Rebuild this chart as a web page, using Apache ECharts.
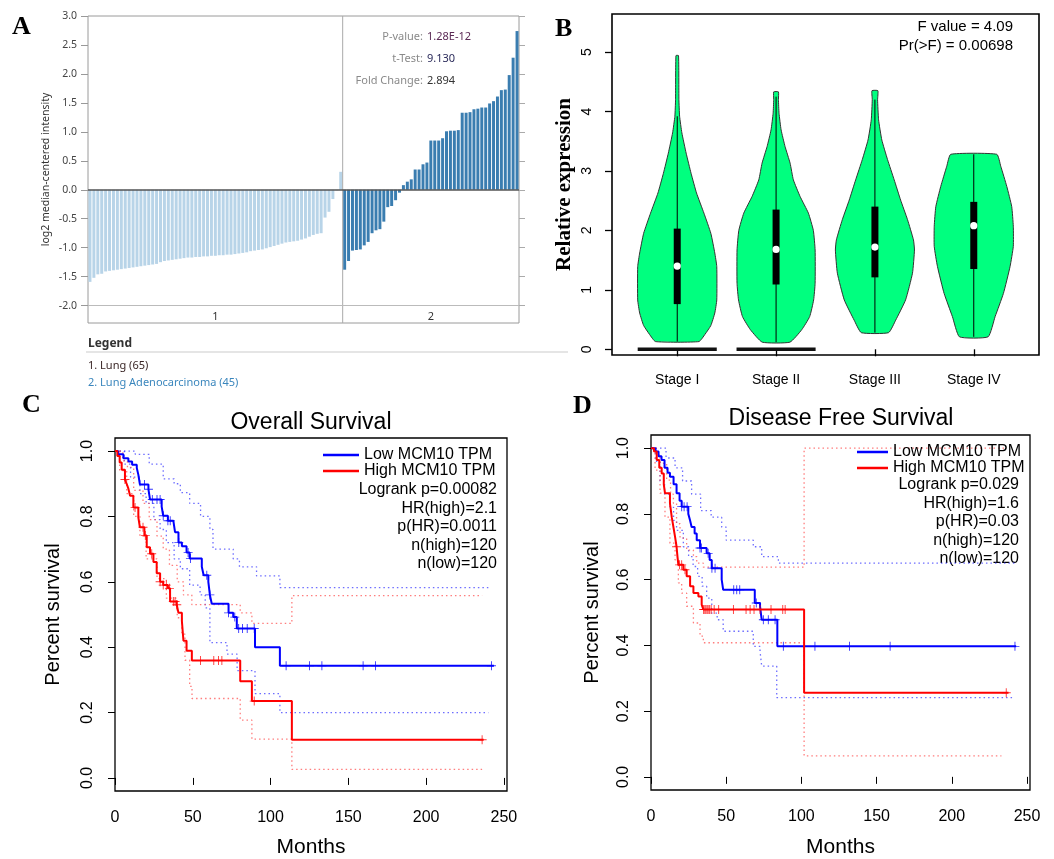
<!DOCTYPE html>
<html>
<head>
<meta charset="utf-8">
<title>MCM10 expression and survival</title>
<script src="https://cdn.jsdelivr.net/npm/echarts@6/dist/echarts.min.js"></script>
<style>
  html, body { margin: 0; padding: 0; background: #fff; }
  #main { width: 1054px; height: 859px; }
</style>
</head>
<body>
<div id="main"></div>
<script>
// ---------- A : oncomine bar chart ----------
var lungVals = [-1.59, -1.52, -1.46, -1.45, -1.41, -1.40, -1.39, -1.38, -1.37, -1.36,
  -1.35, -1.34, -1.33, -1.32, -1.31, -1.30, -1.29, -1.28, -1.25, -1.23,
  -1.22, -1.21, -1.20, -1.19, -1.18, -1.17, -1.17, -1.16, -1.16, -1.15,
  -1.15, -1.14, -1.14, -1.13, -1.13, -1.12, -1.12, -1.11, -1.10, -1.09,
  -1.08, -1.06, -1.05, -1.04, -1.03, -1.01, -0.99, -0.97, -0.95, -0.93,
  -0.91, -0.90, -0.89, -0.88, -0.86, -0.84, -0.81, -0.78, -0.76, -0.75,
  -0.48, -0.38, -0.16, -0.01, 0.31];
var adenoVals = [-1.38, -1.23, -1.05, -1.04, -1.03, -0.96, -0.90, -0.75, -0.70, -0.68,
  -0.55, -0.30, -0.28, -0.18, -0.05, 0.08, 0.14, 0.18, 0.35, 0.35,
  0.44, 0.47, 0.85, 0.85, 0.85, 0.89, 1.01, 1.02, 1.02, 1.03,
  1.33, 1.33, 1.34, 1.39, 1.40, 1.42, 1.42, 1.49, 1.53, 1.61,
  1.72, 1.73, 1.98, 2.28, 2.74];
var groupLabels = ['1', '2'];
var aTicks = [-2.0, -1.5, -1.0, -0.5, 0.0, 0.5, 1.0, 1.5, 2.0, 2.5, 3.0];

// ---------- B : violin plot ----------
var stageNames = ['Stage I', 'Stage II', 'Stage III', 'Stage IV'];
var stage1Y = [0.13, 0.25, 0.40, 0.61, 0.83, 1.39, 1.62, 1.95, 2.29, 2.63, 2.96, 3.30, 3.64, 3.92, 4.20, 4.94];
var stage1W = [0.22, 0.28, 0.34, 0.38, 0.40, 0.40, 0.38, 0.34, 0.27, 0.195, 0.14, 0.09, 0.047, 0.024, 0.017, 0.013];
var stage2Y = [0.12, 0.33, 0.55, 0.83, 1.11, 1.67, 2.00, 2.29, 2.57, 2.85, 3.13, 3.41, 3.69, 3.97, 4.20, 4.33];
var stage2W = [0.14, 0.26, 0.34, 0.38, 0.395, 0.395, 0.377, 0.327, 0.243, 0.175, 0.142, 0.091, 0.051, 0.030, 0.024, 0.024];
var stage3Y = [0.28, 0.49, 0.83, 1.28, 1.67, 1.84, 2.18, 2.51, 2.85, 3.19, 3.52, 3.86, 4.20, 4.35];
var stage3W = [0.138, 0.21, 0.31, 0.38, 0.40, 0.39, 0.33, 0.26, 0.195, 0.128, 0.07, 0.037, 0.027, 0.03];
var stage4Y = [0.21, 0.55, 0.94, 1.39, 1.73, 2.07, 2.40, 2.74, 3.08, 3.28];
var stage4W = [0.145, 0.216, 0.30, 0.367, 0.40, 0.40, 0.384, 0.334, 0.273, 0.233];
var boxLow = [0.76, 1.09, 1.21, 1.35];
var boxHigh = [2.03, 2.35, 2.40, 2.48];
var medians = [1.40, 1.68, 1.72, 2.08];
var whiskerLow = [0.13, 0.12, 0.28, 0.21];
var whiskerHigh = [3.92, 4.25, 4.20, 3.28];
var zeroBar = [true, true, false, false];
var bTicks = [0, 1, 2, 3, 4, 5];

// ---------- C : overall survival (months, survival) ----------
var osLow = [[0,1],[2,0.99],[5.4,0.978],[8.6,0.968],[11,0.958],[14,0.948],[15,0.928],[16,0.898],[21.5,0.883],[22.5,0.852],
  [30,0.83],[31,0.802],[34,0.787],[37.5,0.782],[38.6,0.752],[40.8,0.72],[43,0.709],[46,0.69],[48,0.671],[55.8,0.646],
  [57,0.62],[60,0.60],[61,0.56],[62.2,0.533],[73,0.505],[76,0.492],[78.3,0.457],[90,0.40],[106,0.343],[243.6,0.343]];
var osHigh = [[0,1],[1.5,0.985],[3,0.965],[4.3,0.943],[6.4,0.913],[7.5,0.90],[8.6,0.885],[9.7,0.863],[11.8,0.827],[15,0.797],
  [16,0.767],[18.9,0.742],[20.4,0.706],[22.5,0.686],[24.7,0.661],[26.8,0.626],[29,0.60],[31,0.59],[34,0.58],[35.4,0.54],
  [39.7,0.53],[40.8,0.505],[43,0.48],[44,0.42],[46,0.389],[49.4,0.359],[80.5,0.296],[88,0.235],[113.7,0.117],[237,0.117]];
var osLowUpper = [[0,1],[13,0.99],[22,0.96],[31,0.915],[38,0.90],[42,0.873],[48,0.84],[55,0.80],[61,0.76],[63,0.70],
  [76,0.67],[80,0.646],[91,0.618],[106,0.582],[240,0.582]];
var osLowLower = [[0,1],[6,0.96],[10,0.92],[16,0.87],[20,0.84],[25,0.79],[29,0.76],[33,0.72],[38,0.67],[42,0.64],
  [48,0.59],[54.7,0.56],[58,0.52],[61,0.414],[72,0.379],[78.5,0.328],[90,0.258],[106,0.20],[240,0.20]];
var osHighUpper = [[0,1],[5,0.97],[8,0.95],[12,0.88],[18,0.84],[22,0.79],[27,0.74],[31,0.70],[35,0.65],[40,0.60],
  [44,0.56],[49.4,0.53],[80.5,0.505],[88,0.473],[113.7,0.558],[236,0.558]];
var osHighLower = [[0,1],[3,0.94],[7.5,0.87],[12,0.80],[16,0.74],[20,0.67],[27,0.61],[33,0.55],[40,0.49],[43,0.44],
  [45,0.36],[48,0.28],[49.5,0.243],[80.5,0.177],[88,0.119],[113.7,0.026],[236,0.026]];
var osLowCensor = [19,21.5,24,27,29,31,34,35.5,41,47,48.5,59,61,73,77,79.5,82,85,89.5,110,125,133,159.5,167.5,242];
var osHighCensor = [6.4,12.9,18,19.5,23.6,29,31,33,35,37.5,38.6,39.7,55,63.5,66.5,68.7,89.5,236];

// ---------- D : disease free survival ----------
var dfsLow = [[0,1],[3,0.99],[5,0.975],[7,0.964],[9,0.94],[11,0.925],[12.6,0.913],[15,0.89],[17,0.863],[19,0.84],
  [20.4,0.822],[24.8,0.80],[26,0.78],[27,0.76],[29,0.74],[30.4,0.72],[32.6,0.696],[37,0.68],[39,0.66],[40.4,0.635],
  [47,0.60],[48,0.569],[69,0.529],[72.5,0.519],[73.6,0.478],[84,0.397],[242.8,0.397]];
var dfsHigh = [[0,1],[2,0.99],[3.8,0.964],[5.5,0.94],[7.1,0.923],[8.5,0.89],[9.3,0.863],[12.6,0.832],[13.8,0.79],[14.9,0.76],
  [16,0.73],[17,0.70],[17.6,0.67],[18.2,0.645],[21.5,0.63],[23.7,0.61],[26,0.58],[28.2,0.559],[31.5,0.549],[33.7,0.524],
  [34.8,0.509],[101.8,0.256],[237.7,0.256]];
var dfsLowUpper = [[0,1],[10,0.97],[16,0.94],[21,0.90],[27,0.86],[33,0.81],[40,0.79],[47,0.76],[50,0.72],[68,0.70],
  [73.6,0.67],[84.7,0.65],[242,0.65]];
var dfsLowLower = [[0,1],[3,0.96],[6,0.90],[9,0.86],[12.6,0.82],[15,0.78],[17,0.75],[21.5,0.70],[25,0.67],[28,0.64],
  [31,0.61],[34,0.58],[37,0.544],[40.4,0.498],[44,0.478],[48,0.443],[68,0.397],[72.5,0.382],[73.6,0.337],[83.6,0.241],[242,0.241]];
var dfsHighUpper = [[0,1],[4,0.98],[6,0.954],[10.4,0.903],[13,0.86],[14.9,0.832],[17,0.77],[19.3,0.726],[23.7,0.69],[28.2,0.67],
  [30.4,0.65],[34.8,0.638],[101.8,1.0],[236,1.0]];
var dfsHighLower = [[0,1],[2.7,0.933],[6,0.863],[9.3,0.79],[12.6,0.711],[16,0.66],[18.2,0.59],[20.4,0.559],[23.7,0.519],[28.2,0.468],
  [32.6,0.428],[34.8,0.408],[101.8,0.064],[233,0.064]];
var dfsLowCensor = [20.4,22,24,32.6,33.5,38,40.5,42.6,55,57,59,70,74.7,78,82.5,88,109,132,159,242];
var dfsHighCensor = [17,19,20.4,22.6,35,35.8,36.5,37.3,38,39,40,42,45,54.8,63.2,65.9,68.5,72.5,79.8,87.6,89.2,236.2];

var survTicks = [0, 0.2, 0.4, 0.6, 0.8, 1.0];
var monthTicks = [0, 50, 100, 150, 200, 250];
var seriesNames = ['Low MCM10 TPM', 'High MCM10 TPM'];

// ---------------------------------------------------
var chart = echarts.init(document.getElementById('main'));

var SANS = 'Liberation Sans';
var BLUE = '#0000ff', RED = '#ff0000';
var PLUS = 'path://M-0.1,-1H0.1V-0.1H1V0.1H0.1V1H-0.1V0.1H-1V-0.1H-0.1Z';

// bars for A
var aCats = [], aData = [];
lungVals.forEach(function (v, i) {
  aCats.push('s' + i);
  aData.push({ value: v, itemStyle: { color: '#b8d4e8' } });
});
adenoVals.forEach(function (v, i) {
  aCats.push('t' + i);
  aData.push({ value: v, itemStyle: { color: '#3a7db0' } });
});
var nA = lungVals.length + adenoVals.length;
var groupCenters = [lungVals.length / 2, lungVals.length + adenoVals.length / 2];

var violinY = [stage1Y, stage2Y, stage3Y, stage4Y];
var violinW = [stage1W, stage2W, stage3W, stage4W];

function renderViolin(params, api) {
  var i = api.value(0) - 1, c = i + 1;
  var ys = violinY[i], ws = violinW[i], pts = [], k;
  for (k = 0; k < ys.length; k++) pts.push(api.coord([c + ws[k], ys[k]]));
  for (k = ys.length - 1; k >= 0; k--) pts.push(api.coord([c - ws[k], ys[k]]));
  var kids = [{ type: 'polygon', shape: { points: pts, smooth: 0.15 },
    style: { fill: '#00ff7f', stroke: '#333', lineWidth: 1 } }];
  if (zeroBar[i]) {
    var a = api.coord([c - 0.4, 0]), b = api.coord([c + 0.4, 0]);
    kids.push({ type: 'line', shape: { x1: a[0], y1: a[1], x2: b[0], y2: b[1] }, style: { stroke: '#111', lineWidth: 3.5 } });
  }
  var w0 = api.coord([c, whiskerLow[i]]), w1 = api.coord([c, whiskerHigh[i]]);
  kids.push({ type: 'line', shape: { x1: w0[0], y1: w0[1], x2: w1[0], y2: w1[1] }, style: { stroke: '#000', lineWidth: 1 } });
  var q1 = api.coord([c, boxLow[i]]), q3 = api.coord([c, boxHigh[i]]);
  kids.push({ type: 'rect', shape: { x: q1[0] - 3.5, y: q3[1], width: 7, height: q1[1] - q3[1] }, style: { fill: '#000' } });
  var m = api.coord([c, medians[i]]);
  kids.push({ type: 'circle', shape: { cx: m[0], cy: m[1], r: 3.6 }, style: { fill: '#fff' } });
  return { type: 'group', children: kids };
}

function survAt(curve, t) {
  var s = 1;
  for (var i = 0; i < curve.length; i++) if (curve[i][0] <= t) s = curve[i][1];
  return s;
}

function kmSeries(ax, low, high, lowUp, lowLo, highUp, highLo, lowCens, highCens) {
  function ci(data, color) {
    return { type: 'line', xAxisIndex: ax, yAxisIndex: ax, data: data, step: 'end', showSymbol: false, silent: true,
      lineStyle: { color: color, width: 1.3, type: [1.5, 3] }, z: 2 };
  }
  function curve(name, data, color) {
    return { name: name, type: 'line', xAxisIndex: ax, yAxisIndex: ax, data: data, step: 'end', showSymbol: false,
      lineStyle: { color: color, width: 2 }, itemStyle: { color: color }, z: 4 };
  }
  function cens(curveData, times, color) {
    return { type: 'scatter', xAxisIndex: ax, yAxisIndex: ax, symbol: PLUS, symbolSize: 9, silent: true,
      itemStyle: { color: color }, z: 5,
      data: times.map(function (t) { return [t, survAt(curveData, t)]; }) };
  }
  return [
    ci(lowUp, 'rgba(60,60,255,0.75)'), ci(lowLo, 'rgba(60,60,255,0.75)'),
    ci(highUp, 'rgba(255,70,70,0.7)'), ci(highLo, 'rgba(255,70,70,0.7)'),
    curve(seriesNames[0], low, BLUE), curve(seriesNames[1], high, RED),
    cens(low, lowCens, BLUE), cens(high, highCens, RED)
  ];
}

function survX(grid, name, gap) {
  return { type: 'value', gridIndex: grid, min: 0, max: 252, name: name, nameLocation: 'middle', nameGap: gap,
    nameTextStyle: { fontFamily: SANS, fontSize: 21, color: '#000' },
    axisLine: { show: false }, splitLine: { show: false },
    axisTick: { customValues: monthTicks, length: 7, lineStyle: { color: '#000' } },
    axisLabel: { customValues: monthTicks, margin: 19, fontFamily: SANS, fontSize: 16, color: '#000' } };
}
function survY(grid, gap) {
  return { type: 'value', gridIndex: grid, min: -0.04, max: 1.04, name: 'Percent survival', nameLocation: 'middle',
    nameGap: gap, nameRotate: 90, nameTextStyle: { fontFamily: SANS, fontSize: 20, color: '#000' },
    axisLine: { show: false }, splitLine: { show: false },
    axisTick: { customValues: survTicks, length: 7, lineStyle: { color: '#000' } },
    axisLabel: { customValues: survTicks, rotate: 90, margin: 19, fontFamily: SANS, fontSize: 16, color: '#000',
      formatter: function (v) { return v.toFixed(1); } } };
}

function txt(x, y, s, font, color, align) {
  return { type: 'text', x: x, y: y, style: { text: s, font: font, fill: color || '#000', align: align || 'left', verticalAlign: 'middle' } };
}

var statFont = '16px "Liberation Sans"';
var graphics = [
  txt(12, 27, 'A', 'bold 26px "Liberation Serif"'),
  txt(555, 29, 'B', 'bold 26px "Liberation Serif"'),
  txt(22, 405, 'C', 'bold 26px "Liberation Serif"'),
  txt(573, 406, 'D', 'bold 26px "Liberation Serif"'),
  // A statistics
  txt(423, 37, 'P-value:', '11px "Noto Sans"', '#8a8a8a', 'right'),
  txt(427, 37, '1.28E-12', '11px "Noto Sans"', '#5b2a55'),
  txt(423, 59, 't-Test:', '11px "Noto Sans"', '#8a8a8a', 'right'),
  txt(427, 59, '9.130', '11px "Noto Sans"', '#2a2a5a'),
  txt(423, 81, 'Fold Change:', '11px "Noto Sans"', '#8a8a8a', 'right'),
  txt(427, 81, '2.894', '11px "Noto Sans"', '#333'),
  // A legend
  txt(88, 344, 'Legend', 'bold 12px "Noto Sans"', '#333'),
  { type: 'line', shape: { x1: 86, y1: 352, x2: 568, y2: 352 }, style: { stroke: '#dddddd', lineWidth: 1.5 } },
  txt(88, 366, '1. Lung (65)', '11px "Noto Sans"', '#3a2626'),
  txt(88, 383, '2. Lung Adenocarcinoma (45)', '11px "Noto Sans"', '#3a86bd'),
  // B statistics
  txt(1013, 27, 'F value = 4.09', '15px "Liberation Sans"', '#000', 'right'),
  txt(1013, 46, 'Pr(>F) = 0.00698', '15px "Liberation Sans"', '#000', 'right'),
  // C/D titles
  txt(311, 423, 'Overall Survival', '23px "Liberation Sans"', '#000', 'center'),
  txt(841, 419, 'Disease Free Survival', '23px "Liberation Sans"', '#000', 'center')
];
var osStats = ['Logrank p=0.00082', 'HR(high)=2.1', 'p(HR)=0.0011', 'n(high)=120', 'n(low)=120'];
var dfsStats = ['Logrank p=0.029', 'HR(high)=1.6', 'p(HR)=0.03', 'n(high)=120', 'n(low)=120'];
osStats.forEach(function (s, i) { graphics.push(txt(497, 490 + i * 18.5, s, statFont, '#000', 'right')); });
dfsStats.forEach(function (s, i) { graphics.push(txt(1019, 485 + i * 18.5, s, statFont, '#000', 'right')); });

var option = {
  backgroundColor: '#fff',
  animation: false,
  textStyle: { fontFamily: SANS },
  grid: [
    { left: 88, top: 16, width: 431, height: 307, show: true, borderColor: '#9a9a9a', borderWidth: 1 },
    { left: 612, top: 14, width: 427, height: 341, show: true, borderColor: '#000', borderWidth: 1.6 },
    { left: 115, top: 438, width: 392, height: 357, show: true, borderColor: '#000', borderWidth: 1.3 },
    { left: 651, top: 435, width: 379, height: 356, show: true, borderColor: '#000', borderWidth: 1.3 }
  ],
  legend: [
    { data: seriesNames, orient: 'vertical', left: 323, top: 447, itemWidth: 36, itemHeight: 2.5, icon: 'rect',
      itemGap: 0, padding: 0, selectedMode: false, textStyle: { fontFamily: SANS, fontSize: 16, lineHeight: 15.7, color: '#000' } },
    { data: seriesNames, orient: 'vertical', left: 857, top: 444, itemWidth: 31, itemHeight: 2.5, icon: 'rect',
      itemGap: 0, padding: 0, selectedMode: false, textStyle: { fontFamily: SANS, fontSize: 16, lineHeight: 14.5, color: '#000' } }
  ],
  xAxis: [
    { type: 'category', gridIndex: 0, data: aCats, position: 'top', show: false },
    { type: 'value', gridIndex: 0, position: 'bottom', min: 0, max: nA,
      axisLine: { show: false }, axisTick: { show: false }, splitLine: { show: false },
      axisLabel: { customValues: groupCenters, inside: true, margin: 1, fontFamily: 'Noto Sans', fontSize: 11, color: '#333',
        formatter: function (v) { return v < lungVals.length ? groupLabels[0] : groupLabels[1]; } } },
    { type: 'value', gridIndex: 1, min: 0.34, max: 4.66,
      axisLine: { show: false }, splitLine: { show: false },
      axisTick: { customValues: [1, 2, 3, 4], length: 7, lineStyle: { color: '#000', width: 1.3 } },
      axisLabel: { customValues: [1, 2, 3, 4], margin: 18, fontFamily: SANS, fontSize: 14, color: '#000',
        formatter: function (v) { return stageNames[v - 1]; } } },
    survX(2, 'Months', 46),
    survX(3, 'Months', 47)
  ],
  yAxis: [
    { type: 'value', gridIndex: 0, min: -2.3, max: 3.0, name: 'log2 median-centered intensity', nameLocation: 'middle',
      nameGap: 36, nameRotate: 90, nameTextStyle: { fontFamily: 'Noto Sans', fontSize: 10.5, color: '#333' },
      axisLine: { show: false }, splitLine: { show: false },
      axisTick: { customValues: aTicks, length: 7, lineStyle: { color: '#999' } },
      axisLabel: { customValues: aTicks, margin: 11, fontFamily: 'Noto Sans', fontSize: 10.5, color: '#444',
        formatter: function (v) { return v.toFixed(1); } } },
    { type: 'value', gridIndex: 0, position: 'right', min: -2.3, max: 3.0,
      axisLine: { show: false }, splitLine: { show: false }, axisLabel: { show: false },
      axisTick: { customValues: aTicks, length: 6, lineStyle: { color: '#aaa' } } },
    { type: 'value', gridIndex: 1, min: -0.096, max: 5.64, name: 'Relative expression', nameLocation: 'middle',
      nameGap: 37, nameRotate: 90, nameTextStyle: { fontFamily: 'Liberation Serif', fontWeight: 'bold', fontSize: 21, color: '#000' },
      axisLine: { show: false }, splitLine: { show: false },
      axisTick: { customValues: bTicks, length: 7, lineStyle: { color: '#000', width: 1.3 } },
      axisLabel: { customValues: bTicks, rotate: 90, margin: 18, fontFamily: SANS, fontSize: 14, color: '#000' } },
    survY(2, 52),
    survY(3, 49)
  ],
  series: [
    { type: 'bar', xAxisIndex: 0, yAxisIndex: 0, data: aData, barCategoryGap: '24%', silent: true,
      markLine: { silent: true, symbol: 'none', label: { show: false },
        data: [
          { yAxis: 0, lineStyle: { color: '#555', width: 1.5, type: 'solid' } },
          { yAxis: -2, lineStyle: { color: '#bbb', width: 1, type: 'solid' } }
        ] } },
    { type: 'line', xAxisIndex: 1, yAxisIndex: 0, silent: true, showSymbol: false,
      data: [[lungVals.length, -2.3], [lungVals.length, 3.0]], lineStyle: { color: '#aaa', width: 1 } },
    { type: 'custom', xAxisIndex: 2, yAxisIndex: 2, renderItem: renderViolin, silent: true,
      data: stageNames.map(function (n, i) { return [i + 1]; }) }
  ].concat(
    kmSeries(3, osLow, osHigh, osLowUpper, osLowLower, osHighUpper, osHighLower, osLowCensor, osHighCensor),
    kmSeries(4, dfsLow, dfsHigh, dfsLowUpper, dfsLowLower, dfsHighUpper, dfsHighLower, dfsLowCensor, dfsHighCensor)
  ),
  graphic: graphics
};

chart.setOption(option);
</script>
</body>
</html>
